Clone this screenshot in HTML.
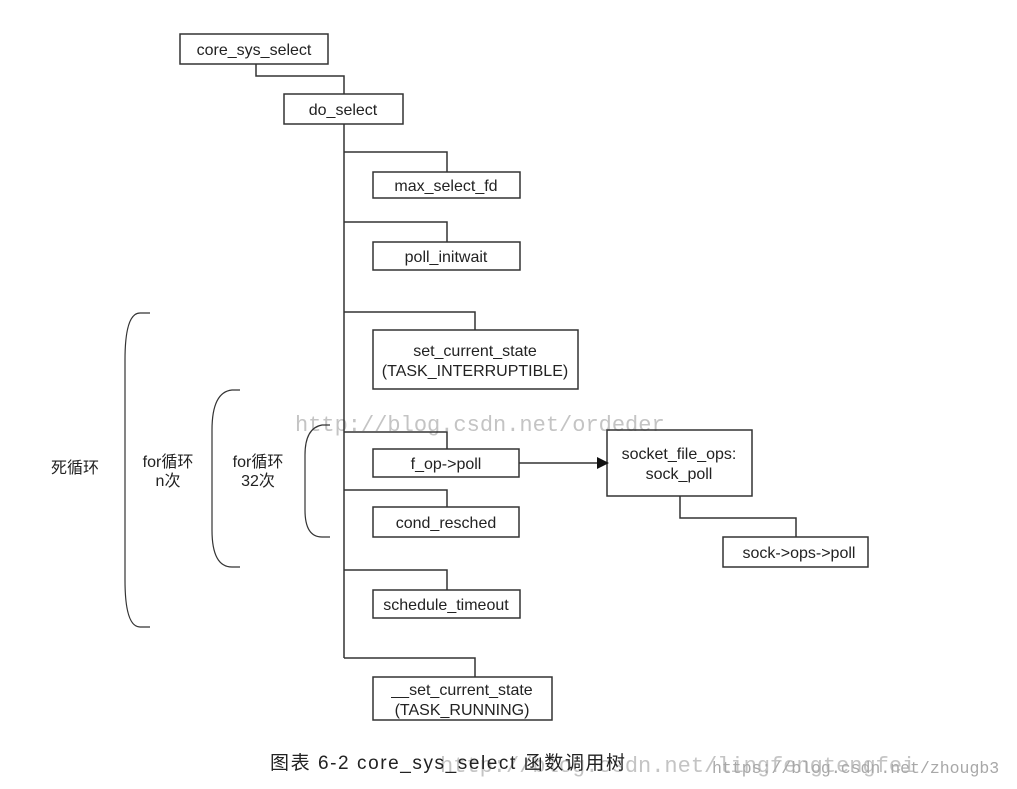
<!DOCTYPE html>
<html><head><meta charset="utf-8"><style>
html,body{margin:0;padding:0;background:#fff;}
svg{display:block;}
text{font-family:"Liberation Sans","Noto Sans CJK SC",sans-serif;font-size:16px;fill:#222;}
text.w{font-family:"Liberation Mono","Noto Sans CJK SC",monospace;fill:#c4c4c4;}
</style></head><body>
<svg width="1017" height="789" viewBox="0 0 1017 789" xmlns="http://www.w3.org/2000/svg">
<text class="w" x="295" y="431" style="font-size:22px">http://blog.csdn.net/ordeder</text>
<g fill="none" stroke="#333" stroke-width="1.5">
<rect x="180" y="34" width="148" height="30"/>
<rect x="284" y="94" width="119" height="30"/>
<rect x="373" y="172" width="147" height="26"/>
<rect x="373" y="242" width="147" height="28"/>
<rect x="373" y="330" width="205" height="59"/>
<rect x="373" y="449" width="146" height="28"/>
<rect x="607" y="430" width="145" height="66"/>
<rect x="723" y="537" width="145" height="30"/>
<rect x="373" y="507" width="146" height="30"/>
<rect x="373" y="590" width="147" height="28"/>
<rect x="373" y="677" width="179" height="43"/>
<polyline points="256,64 256,76 344,76 344,94"/>
<line x1="344" y1="124" x2="344" y2="658"/>
<polyline points="344,152 447,152 447,172"/>
<polyline points="344,222 447,222 447,242"/>
<polyline points="344,312 475,312 475,330"/>
<polyline points="344,432 447,432 447,449"/>
<polyline points="344,490 447,490 447,507"/>
<polyline points="344,570 447,570 447,590"/>
<polyline points="344,658 475,658 475,677"/>
<polyline points="680,496 680,518 796,518 796,537"/>
<line x1="519" y1="463" x2="597" y2="463"/>
<path d="M150,313 L140,313 Q125,313 125,360 L125,580 Q125,627 140,627 L150,627" stroke-width="1.2"/>
<path d="M240,390 L232,390 Q212,392 212,430 L212,530 Q212,567 232,567 L240,567" stroke-width="1.2"/>
<path d="M330,425 L322,425 Q305,428 305,455 L305,510 Q305,537 322,537 L330,537" stroke-width="1.2"/>
</g>
<polygon points="597,457 609,463 597,469" fill="#111"/>
<g text-anchor="middle">
<text x="254" y="55">core_sys_select</text>
<text x="343" y="115">do_select</text>
<text x="446" y="191">max_select_fd</text>
<text x="446" y="262">poll_initwait</text>
<text x="475" y="356">set_current_state</text>
<text x="475" y="376">(TASK_INTERRUPTIBLE)</text>
<text x="446" y="469">f_op-&gt;poll</text>
<text x="679" y="459">socket_file_ops:</text>
<text x="679" y="479">sock_poll</text>
<text x="799" y="558">sock-&gt;ops-&gt;poll</text>
<text x="446" y="528">cond_resched</text>
<text x="446" y="610">schedule_timeout</text>
<text x="462" y="695">__set_current_state</text>
<text x="462" y="715">(TASK_RUNNING)</text>
<text x="75" y="473">死循环</text>
<text x="168" y="467">for循环</text>
<text x="168" y="486">n次</text>
<text x="258" y="467">for循环</text>
<text x="258" y="486">32次</text>
</g>
<text class="w" x="440" y="772" style="font-size:22px">http://blog.csdn.net/lingfengtengfei</text>
<text x="270" y="769" style="font-size:19px" textLength="355" lengthAdjust="spacing">图表 6-2 core_sys_select 函数调用树</text>
<text class="w" x="712" y="773" style="font-size:16.5px;fill:#a8a8a8">https://blog.csdn.net/zhougb3</text>
</svg>
</body></html>
